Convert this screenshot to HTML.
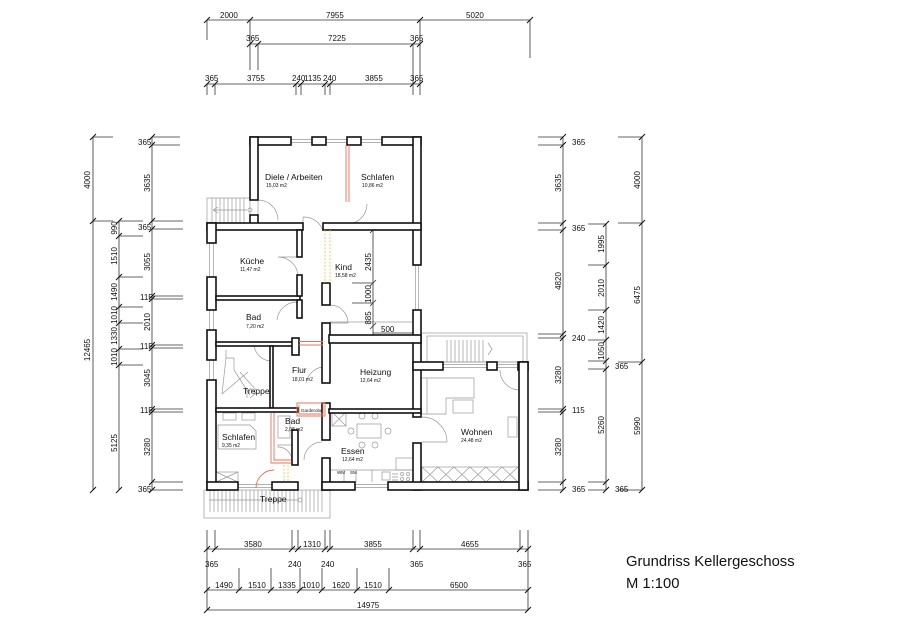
<!DOCTYPE html>
<html><head><meta charset="utf-8"><style>
html,body{margin:0;padding:0;background:#fff;}
svg{display:block;}
text{font-family:"Liberation Sans",Arial,sans-serif;fill:#111;}
.d{font-size:8px;}
.r{font-size:8.5px;}
.a{font-size:5px;}
</style></head><body>
<svg width="900" height="636" viewBox="0 0 900 636" xmlns="http://www.w3.org/2000/svg">
<rect width="900" height="636" fill="#fff"/>
<g stroke="#333" stroke-width="0.8" fill="none">
 <line x1="207" y1="20" x2="530" y2="20"/>
 <line x1="207" y1="20" x2="207" y2="40"/><line x1="250" y1="20" x2="250" y2="70"/><line x1="420" y1="20" x2="420" y2="95"/><line x1="530" y1="20" x2="530" y2="58"/>
 <line x1="250" y1="44" x2="420" y2="44"/>
 <line x1="258" y1="44" x2="258" y2="70"/><line x1="413" y1="44" x2="413" y2="95"/>
 <line x1="207" y1="84" x2="420" y2="84"/>
 <line x1="207" y1="84" x2="207" y2="95"/><line x1="215" y1="84" x2="215" y2="95"/><line x1="296" y1="84" x2="296" y2="95"/><line x1="301" y1="84" x2="301" y2="95"/><line x1="325" y1="84" x2="325" y2="95"/><line x1="330" y1="84" x2="330" y2="95"/>
 <line x1="93" y1="137" x2="93" y2="490"/>
 <line x1="93" y1="137" x2="113" y2="137"/><line x1="93" y1="221" x2="113" y2="221"/>
 <line x1="119" y1="221" x2="119" y2="490"/>
 <line x1="119" y1="221" x2="143" y2="221"/><line x1="119" y1="236" x2="143" y2="236"/><line x1="119" y1="277" x2="143" y2="277"/><line x1="119" y1="307" x2="143" y2="307"/><line x1="119" y1="323" x2="143" y2="323"/><line x1="119" y1="349" x2="143" y2="349"/><line x1="119" y1="365" x2="143" y2="365"/>
 <line x1="152" y1="137" x2="152" y2="490"/>
 <line x1="152" y1="137" x2="180" y2="137"/><line x1="152" y1="145" x2="180" y2="145"/>
 <line x1="152" y1="221" x2="183" y2="221"/><line x1="152" y1="229" x2="183" y2="229"/>
 <line x1="152" y1="296" x2="183" y2="296"/><line x1="152" y1="299" x2="183" y2="299"/>
 <line x1="152" y1="345" x2="183" y2="345"/><line x1="152" y1="348" x2="183" y2="348"/>
 <line x1="152" y1="409" x2="183" y2="409"/><line x1="152" y1="412" x2="183" y2="412"/>
 <line x1="152" y1="482" x2="183" y2="482"/><line x1="152" y1="490" x2="183" y2="490"/>
 <line x1="563" y1="137" x2="563" y2="490"/>
 <line x1="538" y1="137" x2="563" y2="137"/><line x1="538" y1="145" x2="563" y2="145"/>
 <line x1="538" y1="223" x2="563" y2="223"/><line x1="538" y1="230" x2="563" y2="230"/>
 <line x1="538" y1="334" x2="563" y2="334"/><line x1="538" y1="338" x2="563" y2="338"/>
 <line x1="538" y1="409" x2="563" y2="409"/><line x1="538" y1="412" x2="563" y2="412"/>
 <line x1="538" y1="482" x2="563" y2="482"/><line x1="538" y1="490" x2="563" y2="490"/>
 <line x1="606" y1="224" x2="606" y2="490"/>
 <line x1="588" y1="224" x2="606" y2="224"/><line x1="588" y1="265" x2="606" y2="265"/><line x1="588" y1="310" x2="606" y2="310"/><line x1="588" y1="340" x2="606" y2="340"/><line x1="588" y1="361" x2="606" y2="361"/><line x1="588" y1="369" x2="606" y2="369"/><line x1="588" y1="482" x2="606" y2="482"/><line x1="588" y1="490" x2="606" y2="490"/>
 <line x1="642" y1="137" x2="642" y2="490"/>
 <line x1="618" y1="137" x2="642" y2="137"/><line x1="618" y1="223" x2="642" y2="223"/><line x1="618" y1="362" x2="642" y2="362"/><line x1="618" y1="490" x2="642" y2="490"/>
 <line x1="207" y1="549" x2="528" y2="549"/>
 <line x1="207" y1="530" x2="207" y2="610"/><line x1="215" y1="530" x2="215" y2="549"/><line x1="292" y1="530" x2="292" y2="549"/><line x1="298" y1="530" x2="298" y2="549"/><line x1="325" y1="530" x2="325" y2="549"/><line x1="330" y1="530" x2="330" y2="549"/><line x1="413" y1="530" x2="413" y2="549"/><line x1="420" y1="530" x2="420" y2="549"/><line x1="520" y1="530" x2="520" y2="549"/><line x1="528" y1="530" x2="528" y2="610"/>
 <line x1="207" y1="590" x2="528" y2="590"/>
 <line x1="239" y1="568" x2="239" y2="590"/><line x1="271" y1="568" x2="271" y2="590"/><line x1="300" y1="568" x2="300" y2="590"/><line x1="322" y1="568" x2="322" y2="590"/><line x1="357" y1="568" x2="357" y2="590"/><line x1="389" y1="568" x2="389" y2="590"/>
 <line x1="207" y1="610" x2="528" y2="610"/>
</g>
<g stroke="#111" stroke-width="1">
 <path d="M204 23l6-6M247 23l6-6M417 23l6-6M527 23l6-6
 M247 47l6-6M255 47l6-6M410 47l6-6M417 47l6-6
 M204 87l6-6M212 87l6-6M293 87l6-6M298 87l6-6M322 87l6-6M327 87l6-6M410 87l6-6M417 87l6-6
 M90 140l6-6M90 224l6-6M90 493l6-6
 M116 224l6-6M116 239l6-6M116 280l6-6M116 310l6-6M116 326l6-6M116 352l6-6M116 368l6-6M116 493l6-6
 M149 140l6-6M149 148l6-6M149 224l6-6M149 232l6-6M149 299l6-6M149 302l6-6M149 348l6-6M149 351l6-6M149 412l6-6M149 415l6-6M149 485l6-6M149 493l6-6
 M560 140l6-6M560 148l6-6M560 226l6-6M560 233l6-6M560 337l6-6M560 341l6-6M560 412l6-6M560 415l6-6M560 485l6-6M560 493l6-6
 M603 227l6-6M603 268l6-6M603 313l6-6M603 343l6-6M603 364l6-6M603 372l6-6M603 485l6-6M603 493l6-6
 M639 140l6-6M639 226l6-6M639 365l6-6M639 493l6-6
 M204 552l6-6M212 552l6-6M289 552l6-6M295 552l6-6M322 552l6-6M327 552l6-6M410 552l6-6M417 552l6-6M517 552l6-6M525 552l6-6
 M204 593l6-6M236 593l6-6M268 593l6-6M297 593l6-6M319 593l6-6M354 593l6-6M386 593l6-6M525 593l6-6
 M204 613l6-6M525 613l6-6"/>
</g>
<g class="d">
 <text x="220" y="18">2000</text><text x="326" y="18">7955</text><text x="466" y="18">5020</text>
 <text x="246" y="41">365</text><text x="328" y="41">7225</text><text x="410" y="41">365</text>
 <text x="205" y="81">365</text><text x="247" y="81">3755</text><text x="292" y="81">240</text><text x="304" y="81">1135</text><text x="323" y="81">240</text><text x="365" y="81">3855</text><text x="410" y="81">365</text>
 <text x="138" y="145">365</text><text x="138" y="230">365</text><text x="140" y="300">115</text><text x="140" y="349">115</text><text x="140" y="413">115</text><text x="138" y="492">365</text>
 <text x="572" y="145">365</text><text x="572" y="231">365</text><text x="572" y="341">240</text><text x="572" y="413">115</text><text x="572" y="492">365</text>
 <text x="615" y="369">365</text><text x="615" y="492">365</text>
 <text x="244" y="547">3580</text><text x="303" y="547">1310</text><text x="364" y="547">3855</text><text x="461" y="547">4655</text>
 <text x="205" y="567">365</text><text x="288" y="567">240</text><text x="321" y="567">240</text><text x="410" y="567">365</text><text x="518" y="567">365</text>
 <text x="215" y="588">1490</text><text x="248" y="588">1510</text><text x="278" y="588">1335</text><text x="302" y="588">1010</text><text x="332" y="588">1620</text><text x="364" y="588">1510</text><text x="450" y="588">6500</text>
 <text x="357" y="608">14975</text>
</g>
<g class="d" text-anchor="middle">
 <text transform="translate(90,180) rotate(-90)">4000</text>
 <text transform="translate(90,350) rotate(-90)">12465</text>
 <text transform="translate(117,228) rotate(-90)">990</text>
 <text transform="translate(117,256) rotate(-90)">1510</text>
 <text transform="translate(117,292) rotate(-90)">1490</text>
 <text transform="translate(117,315) rotate(-90)">1010</text>
 <text transform="translate(117,336) rotate(-90)">1330</text>
 <text transform="translate(117,357) rotate(-90)">1010</text>
 <text transform="translate(117,443) rotate(-90)">5125</text>
 <text transform="translate(150,183) rotate(-90)">3635</text>
 <text transform="translate(150,262) rotate(-90)">3055</text>
 <text transform="translate(150,322) rotate(-90)">2010</text>
 <text transform="translate(150,378) rotate(-90)">3045</text>
 <text transform="translate(150,447) rotate(-90)">3280</text>
 <text transform="translate(561,183) rotate(-90)">3635</text>
 <text transform="translate(561,281) rotate(-90)">4820</text>
 <text transform="translate(561,375) rotate(-90)">3280</text>
 <text transform="translate(561,447) rotate(-90)">3280</text>
 <text transform="translate(604,244) rotate(-90)">1995</text>
 <text transform="translate(604,288) rotate(-90)">2010</text>
 <text transform="translate(604,325) rotate(-90)">1420</text>
 <text transform="translate(604,351) rotate(-90)">1050</text>
 <text transform="translate(604,425) rotate(-90)">5260</text>
 <text transform="translate(640,180) rotate(-90)">4000</text>
 <text transform="translate(640,295) rotate(-90)">6475</text>
 <text transform="translate(640,426) rotate(-90)">5990</text>
</g>
<g stroke="#999" stroke-width="0.7" fill="none">
 <rect x="207" y="198" width="43" height="25"/>
 <path d="M212 198v25M216 198v25M220 198v25M224 198v25M228 198v25M232 198v25M236 198v25M240 198v25M244 198v25"/>
 <path d="M213 210h34M213 210l5-3M213 210l5 3"/><circle cx="250" cy="210" r="2"/>
 <rect x="204" y="490" width="126" height="28"/>
 <path d="M210 490v22M214 490v22M218 490v22M222 490v22M226 490v22M230 490v22M234 490v22M238 490v22M242 490v22M246 490v22M250 490v22M254 490v22M258 490v22M262 490v22M266 490v22M270 490v22M274 490v22M278 490v22M282 490v22M286 490v22M290 490v22M294 490v22M298 490v22M302 490v22M306 490v22M310 490v22M314 490v22M318 490v22M322 490v22"/>
 <path d="M209 500h90" stroke="#999"/><circle cx="300" cy="500" r="2"/>
 <rect x="420" y="333" width="107" height="29"/>
 <rect x="427" y="336" width="96" height="26"/>
 <path d="M447 340v22M451 340v22M455 340v22M459 340v22M463 340v22M467 340v22M471 340v22M475 340v22M479 340v22M483 340v22"/>
 <path d="M488 343l4 6l-4 6"/>
 <path d="M291 139.5h21M291 142.5h21M326 139.5h21M326 142.5h21M361 139.5h21M361 142.5h21"/>
 <path d="M209.5 243v34M213.5 243v34M209.5 310v20M213.5 310v20M209.5 360v20M213.5 360v20"/>
 <path d="M415.5 265v45M418.5 265v45"/>
 <path d="M443 364.5h44M443 367.5h44M497 364.5h21M497 367.5h21"/>
 <path d="M238 484.5h34M238 487.5h34M355 484.5h33M355 487.5h33"/>
 <path d="M258 200 a20 20 0 0 1 20 20 M258 200v20"/>
 <path d="M303 217a20 20 0 0 1 20 14 M303 217v14"/>
 <path d="M347 224a20 20 0 0 0 20 -20"/>
 <path d="M278 257a20 20 0 0 1 20 18 M278 257h19"/>
 <path d="M330 305a18 18 0 0 1 18 18 M330 323h18"/>
 <path d="M277 320a20 20 0 0 1 20 -18"/>
 <path d="M254 345a18 18 0 0 0 16 16"/>
 <path d="M306 383a20 20 0 0 1 16 -16"/>
 <path d="M422 417a25 25 0 0 1 25 25 M422 442h25"/>
 <path d="M500 370a20 20 0 0 0 20 20"/>
 <path d="M304 460a18 18 0 0 1 18 -18"/>
 <rect x="223" y="413" width="13" height="7"/><rect x="242" y="413" width="13" height="7"/>
 <path d="M218 425h32l6 6v18h-38z"/>
 <rect x="216" y="472" width="22" height="10"/><path d="M216 472l22 10M238 472l-22 10"/>
 <rect x="332" y="412" width="14" height="14"/><path d="M332 412l14 14M346 412l-14 14"/>
 <circle cx="362" cy="416" r="3"/><circle cx="375" cy="416" r="3"/><circle cx="351" cy="431" r="3"/><circle cx="388" cy="431" r="3"/><circle cx="362" cy="445" r="3"/><circle cx="375" cy="445" r="3"/>
 <rect x="357" y="424" width="24" height="14"/>
 <path d="M330 470h83M330 482v-12M344 470v12M356 470v12M372 470v12"/>
 <rect x="382" y="472" width="8" height="8"/><path d="M392 474h6M392 477h6M392 480h6"/>
 <circle cx="402" cy="474" r="1.5"/><circle cx="408" cy="474" r="1.5"/><circle cx="402" cy="479" r="1.5"/><circle cx="408" cy="479" r="1.5"/>
 <path d="M422 378h52v20h-28v16h-24M427 378v36"/>
 <rect x="453" y="400" width="20" height="13"/>
 <rect x="508" y="417" width="9" height="20"/>
 <rect x="422" y="467" width="97" height="15"/>
 <path d="M422 467l16 15M438 467l-16 15M438 467l16 15M454 467l-16 15M454 467l16 15M470 467l-16 15M470 467l16 15M486 467l-16 15M486 467l16 15M502 467l-16 15M502 467l16 15M518 467l-16 15"/>
 <rect x="396" y="458" width="17" height="12"/>
 <path d="M226 350v8h8v12l16 25M226 358l-4 36M240 372l16 18M222 394l26-22"/>
 <path d="M249 390h-2v8"/><path d="M250 388l6 5l-6 5"/>
 <rect x="330" y="322" width="83" height="13"/>
 <path d="M278 416h12v22h-12z"/><path d="M278 445h14v16a14 14 0 0 0 -14 -14z"/>
</g>
<g stroke="#333" stroke-width="0.8">
 <line x1="373" y1="230" x2="373" y2="335"/>
 <line x1="352" y1="283" x2="373" y2="283"/><line x1="352" y1="303" x2="373" y2="303"/>
 <path d="M370 233l6-6M370 286l6-6M370 306l6-6M370 329l6-6"/>
 <line x1="373" y1="333" x2="413" y2="333"/>
</g>
<g class="d" text-anchor="middle">
 <text transform="translate(371,262) rotate(-90)">2435</text>
 <text transform="translate(371,294) rotate(-90)">1000</text>
 <text transform="translate(371,318) rotate(-90)">885</text>
</g>
<text class="d" x="381" y="332">500</text>
<g fill="#fff" stroke="#111" stroke-width="1.6">
 <rect x="250" y="137" width="41" height="8"/><rect x="312" y="137" width="14" height="8"/><rect x="347" y="137" width="14" height="8"/><rect x="382" y="137" width="39" height="8"/>
 <rect x="250" y="137" width="8" height="63"/><rect x="250" y="215" width="8" height="10"/>
 <rect x="413" y="137" width="8" height="128"/><rect x="413" y="310" width="8" height="107"/><rect x="413" y="443" width="8" height="47"/>
 <rect x="207" y="223" width="96" height="7"/><rect x="323" y="223" width="98" height="7"/>
 <rect x="207" y="223" width="9" height="20"/><rect x="207" y="277" width="9" height="33"/><rect x="207" y="330" width="9" height="30"/><rect x="207" y="380" width="9" height="110"/>
 <rect x="216" y="296" width="84" height="4"/>
 <rect x="297" y="230" width="5" height="27"/><rect x="297" y="275" width="5" height="21"/><rect x="297" y="300" width="5" height="18"/>
 <rect x="216" y="342" width="77" height="4"/><rect x="292" y="338" width="7" height="17"/>
 <rect x="322" y="283" width="8" height="22"/><rect x="322" y="323" width="8" height="60"/><rect x="322" y="403" width="8" height="37"/><rect x="322" y="458" width="8" height="32"/>
 <rect x="329" y="335" width="92" height="8"/>
 <rect x="329" y="409" width="92" height="4"/>
 <rect x="270" y="346" width="3" height="62"/>
 <rect x="216" y="408" width="82" height="4"/>
 <rect x="292" y="430" width="6" height="35"/>
 <rect x="207" y="482" width="31" height="8"/><rect x="272" y="482" width="26" height="8"/><rect x="322" y="482" width="33" height="8"/><rect x="388" y="482" width="140" height="8"/>
 <rect x="413" y="362" width="30" height="8"/><rect x="487" y="362" width="10" height="8"/><rect x="518" y="362" width="10" height="8"/>
 <rect x="519" y="362" width="9" height="128"/>
</g>
<g fill="none" stroke="#e8705a" stroke-width="0.9">
 <path d="M346 145v57M349 145v57"/>
 <path d="M299 341.5h24M299 345h24"/>
 <path d="M297 403v13h28v-13zM299 405v9h24v-9"/>
 <path d="M271 413v50h20M274 413v47h17"/>
 <path d="M274 470a18 18 0 0 0 -18 18"/>
</g>
<g fill="none" stroke="#e6c040" stroke-width="0.8" stroke-dasharray="2,1.5">
 <path d="M325 230v53M330 230v53M284 465v17M288 465v17"/>
</g>
<g class="r">
 <text x="265" y="180">Diele / Arbeiten</text><text x="361" y="180">Schlafen</text>
 <text x="240" y="264">Küche</text><text x="335" y="270">Kind</text>
 <text x="246" y="320">Bad</text><text x="292" y="373">Flur</text>
 <text x="360" y="375">Heizung</text><text x="243" y="394">Treppe</text>
 <text x="222" y="440">Schlafen</text><text x="285" y="424">Bad</text>
 <text x="341" y="454">Essen</text><text x="461" y="435">Wohnen</text>
 <text x="260" y="502">Treppe</text>
</g>
<g class="a">
 <text x="266" y="187">15,03 m2</text><text x="362" y="187">10,86 m2</text>
 <text x="240" y="271">11,47 m2</text><text x="335" y="277">18,58 m2</text>
 <text x="246" y="328">7,20 m2</text><text x="292" y="381">18,01 m2</text>
 <text x="360" y="382">12,64 m2</text><text x="222" y="447">9,35 m2</text>
 <text x="285" y="431">2,08 m2</text><text x="342" y="461">12,64 m2</text>
 <text x="461" y="442">24,48 m2</text>
 <text x="301" y="412" style="font-size:4.5px">Garderobe</text>
 <text x="337" y="474" style="font-size:4.5px">WM</text><text x="350" y="474" style="font-size:4.5px">SM</text>
</g>
<text x="626" y="566" style="font-size:14.8px">Grundriss Kellergeschoss</text>
<text x="626" y="588" style="font-size:14.8px">M 1:100</text>
</svg>
</body></html>
